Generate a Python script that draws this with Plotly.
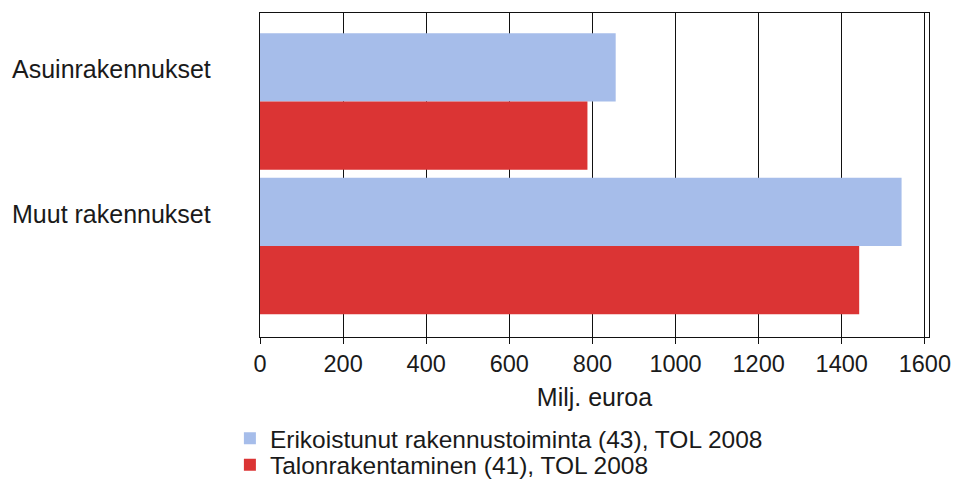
import plotly.graph_objects as go

categories = ["Asuinrakennukset", "Muut rakennukset"]
series_names = ["Erikoistunut rakennustoiminta (43), TOL 2008", "Talonrakentaminen (41), TOL 2008"]
erikoistunut = [856, 1544]
talonrakentaminen = [788, 1442]
x_ticks = [0, 200, 400, 600, 800, 1000, 1200, 1400, 1600]
x_title = "Milj. euroa"

colors = ["#A6BDEA", "#DB3434"]
FONT = "Liberation Sans, Arial, sans-serif"
TXT = "#1a1a1a"

fig = go.Figure()
for i, (name, vals, col) in enumerate(zip(series_names, [erikoistunut, talonrakentaminen], colors)):
    fig.add_trace(go.Bar(
        y=categories, x=vals, name=name, orientation="h",
        marker=dict(color=col, line=dict(width=0)),
        legend="legend" if i == 0 else "legend2",
    ))

for cat in categories:
    fig.add_annotation(
        x=0, xref="paper", xanchor="left", xshift=-250,
        y=cat, yref="y", yanchor="middle", yshift=32,
        text=cat, showarrow=False,
        font=dict(family=FONT, size=25, color=TXT),
    )

leg_common = dict(
    xanchor="left", yanchor="top",
    font=dict(family=FONT, size=24.5, color=TXT),
    bgcolor="rgba(0,0,0,0)", itemclick=False,
)

fig.update_layout(
    width=954, height=479,
    margin=dict(l=260, r=25, t=13, b=142, autoexpand=False),
    paper_bgcolor="white", plot_bgcolor="white",
    barmode="group", bargap=0.055, bargroupgap=0,
    font=dict(family=FONT, size=24, color=TXT),
    showlegend=True,
    legend=dict(x=-0.045, y=-0.243, **leg_common),
    legend2=dict(x=-0.045, y=-0.325, **leg_common),
    xaxis=dict(
        range=[0, 1610], tickvals=x_ticks, ticktext=[str(t) for t in x_ticks],
        showgrid=True, gridcolor="#111111", gridwidth=1.3,
        ticks="outside", ticklen=6, tickwidth=1.3, tickcolor="#111111",
        showline=True, linecolor="#111111", linewidth=1.3, mirror=True,
        zeroline=False,
        tickfont=dict(family=FONT, size=23.5, color=TXT),
        title=dict(text=x_title, font=dict(family=FONT, size=25, color=TXT), standoff=12),
    ),
    yaxis=dict(
        type="category", categoryorder="array", categoryarray=categories,
        range=[1.63, -0.612], showticklabels=False, ticks="",
        showgrid=False, showline=True, linecolor="#111111", linewidth=1.3, mirror=True,
        zeroline=False,
    ),
)

fig.write_html(
    "out.html",
    config={"displayModeBar": False},
    post_script="document.body.style.margin='0';document.body.style.overflow='hidden';",
)
